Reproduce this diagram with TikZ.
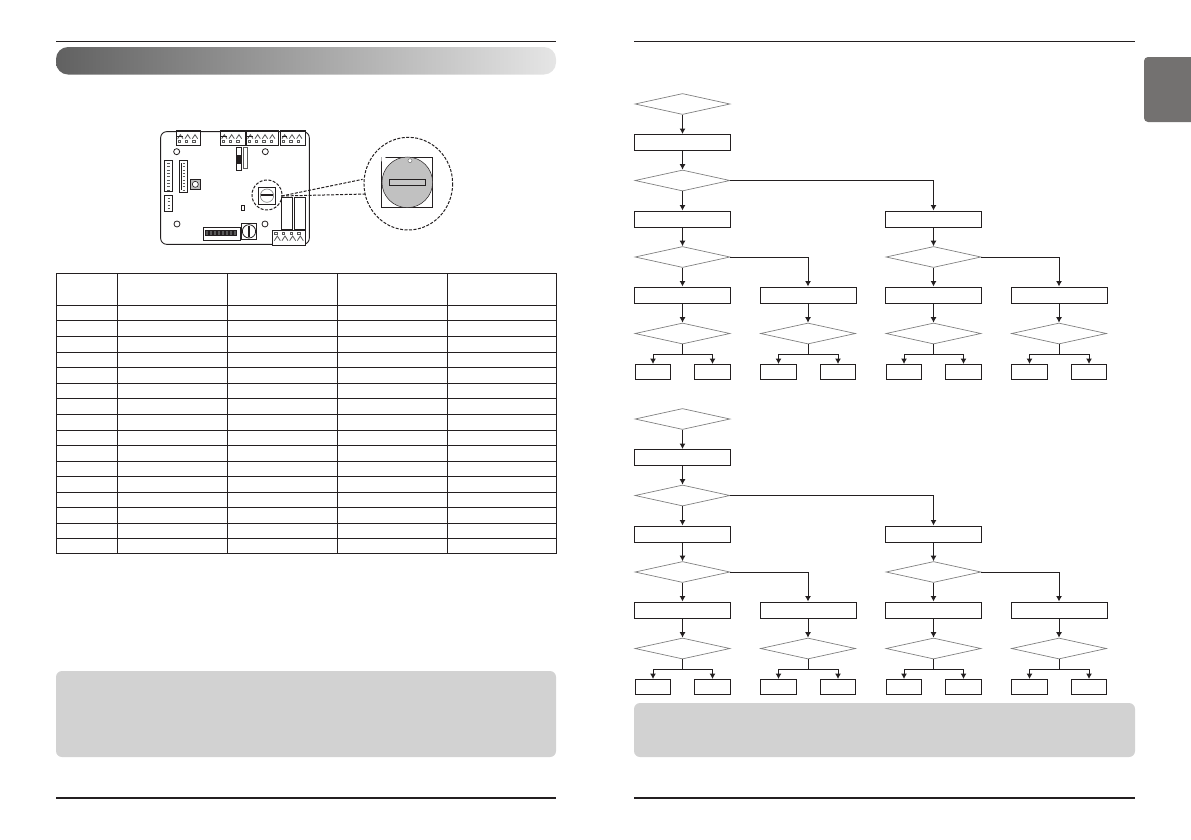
\documentclass[tikz,border=0pt]{standalone}
\usetikzlibrary{shapes.geometric,arrows.meta}
\definecolor{notegray}{HTML}{D2D2D2}
\definecolor{tabgray}{HTML}{737170}
\definecolor{inkblack}{HTML}{231F20}
\tikzset{
	stepbox/.style={draw=inkblack, line width=1pt, rectangle, inner sep=0pt, minimum width=96pt, minimum height=16pt},
	endbox/.style={draw=inkblack, line width=1pt, rectangle, inner sep=0pt, minimum width=35.5pt, minimum height=15pt},
	decide/.style={draw=gray, line width=.7pt, diamond, aspect=4.6, inner sep=0pt, minimum width=95pt, minimum height=21pt},
	link/.style={draw=inkblack, line width=1pt},
	board/.style={draw=inkblack, line width=.6pt},
	cutline/.style={draw=inkblack, line width=1pt, dash pattern=on 3pt off 1.5pt}
}
\begin{document}
\begin{tikzpicture}[>={Latex[length=5.5pt,width=6pt]}, x=1pt, y=-1pt]
	\useasboundingbox (0,0) rectangle (1191,839);

	% page rules
	\foreach \a/\b in {56/556,634/1135} {
			\draw[inkblack, line width=1pt] (\a,41) -- (\b,41);
			\draw[inkblack, line width=2pt] (\a,798) -- (\b,798);
		}

	% heading bar, tab and note boxes
	\shade[left color=black!62, right color=black!10, rounded corners=12pt] (56,47) rectangle (556,74.5);
	\fill[tabgray, rounded corners=4pt] (1144,57) rectangle (1200,122);
	\fill[notegray, rounded corners=6pt] (56,671) rectangle (556,757);
	\fill[notegray, rounded corners=6pt] (634,703) rectangle (1135,757);

	% table
	\foreach \x in {56.5,117,227,337,447,556} {
			\draw[inkblack, line width=1pt] (\x,273) -- (\x,553.5);
		}
	\foreach \y in {273,305,320.5,336,352,367,383,398.5,414,430,445.5,461,476,492,507.5,523,538.5,553.5} {
			\draw[inkblack, line width=1pt] (56.5,\y) -- (556,\y);
		}

	% board, in crop units
	\begin{scope}[shift={(140,110)}, x=.3333pt, y=-.3333pt]
		\draw[board, line width=.9pt, rounded corners=6pt] (62,65) rectangle (508,403);
		\foreach \a/\b/\n in {108/182/2,240/315/2,318/416/3,421/495/2} {
				\draw[board, line width=.8pt, fill=white] (\a,62) rectangle (\b,105);
				\draw[inkblack, line width=1.4pt] (\a,63) -- (\b,63);
				\foreach \k in {0,...,\n} {
						\draw[board, line width=.8pt, gray!70!black] ({\a+5+22*\k},86) -- ++(8,-12) -- ++(8,12) -- ++(-8,-12);
						\draw[board, gray!70!black] ({\a+6+22*\k},90) rectangle ++(7,7);
					}
				\draw[inkblack, line width=1.3pt] ({\a+4},80) -- ++(16,0);
			}
		\draw[board, line width=.8pt, fill=white] (397,362) rectangle (495,407);
		\draw[inkblack, line width=1.4pt] (397,406) -- (495,406);
		\foreach \k in {0,...,3} {
				\draw[board, line width=.8pt, gray!70!black] ({403+23*\k},392) -- ++(9,-14) -- ++(9,14) -- ++(-9,-14);
				\draw[board, gray!70!black] ({404+23*\k},366) rectangle ++(7,6);
			}
		\foreach \x/\y in {110/125,376/125,111/342,375/342} {
				\draw[board, line width=.8pt] (\x,\y) circle (9);
			}
		\foreach \a/\c/\b/\d in {72/152/98/245,118/152/142/247,73/257/98/304} {
				\draw[board, line width=.8pt] (\a,\c) rectangle (\b,\d);
			}
		\draw[inkblack, line width=1pt] (124,160) -- (124,240);
		\foreach \y in {160,170,...,240} {
				\draw[board, gray!70!black, line width=.9pt] (82,\y) -- ++(8,0);
				\draw[board, gray!70!black, line width=.9pt] (128,\y) -- ++(8,0);
			}
		\foreach \y in {265,275,285,295} {
				\draw[board, gray!70!black, line width=.9pt] (83,\y) -- ++(8,0);
			}
		\draw[board, fill=gray!50] (152,209) rectangle (180,238);
		\draw[board, fill=white] (166,223) circle (9);
		\draw[board, line width=.8pt] (303,286) rectangle (314,301);
		\draw[board] (288,113) rectangle (305,180);
		\draw[board, fill=inkblack] (291,135) rectangle (302,160);
		\draw[board, fill=white] (294,140) rectangle (299,155);
		\draw[board, gray!70!black, line width=1.2pt] (311,113) rectangle (323,176);
		% dip switch and rotary
		\draw[board, line width=.8pt] (190,351) rectangle (300,390);
		\foreach \x in {197,209,...,287} {
				\draw[board, fill=gray!70!black] (\x,362) rectangle ++(7,15);
			}
		\draw[board, line width=.8pt] (304,340) rectangle (350,388);
		\draw[board, line width=.8pt] (327,364) circle (20);
		\draw[inkblack, line width=1.6pt] (327,348) -- (327,380);
		% relays
		\draw[board, line width=.9pt] (424,262) rectangle (458,358);
		\draw[board, line width=.9pt] (462,262) rectangle (497,358);
		% switch and its dashed ring
		\draw[board, line width=.9pt] (356,232) rectangle (407,282);
		\draw[board, gray] (381,257) circle (20);
		\draw[inkblack, line width=2pt] (362,256) -- (399,256);
		\draw[cutline] (381,255) circle (45);
		% enlarged view
		\draw[cutline] (425,258) -- (668,208);
		\draw[cutline] (425,258) -- (680,252);
		\draw[cutline, fill=white] (805,221) ellipse (133 and 139);
		\draw[inkblack, line width=1pt, fill=white] (725,142) rectangle (878,292);
		\fill[white] (724,141) -- (738,141) -- (724,155) -- cycle;
		\draw[inkblack, line width=.5pt, fill=notegray!92!black] (802,217) circle (76);
		\draw[inkblack, line width=1.3pt, fill=gray!45] (749,209) rectangle (857,227);
		\draw[board, gray, fill=white] (810,152) circle (6);
	\end{scope}

	% two charts of the same form
	\foreach \o/\t in {0/a,315/b} {
			\begin{scope}[shift={(0,\o)}]
				\node[decide]  (\t first) at (682.5,104) {};
				\node[stepbox] (\t start) at (682.5,142.5) {};
				\node[decide]  (\t fork)  at (682.5,180.5) {};
				\draw[link, ->] (\t first) -- (\t start);
				\draw[link, ->] (\t start) -- (\t fork);
				\foreach \c/\x in {1/682.5,2/933.5} {
						\node[stepbox] (\t step\c) at (\x,219) {};
						\node[decide]  (\t ask\c)  at (\x,257) {};
						\draw[link, ->] (\t step\c) -- (\t ask\c);
					}
				\draw[link, ->] (\t fork) -- (\t step1);
				\draw[link, ->] (\t fork.east) -| (\t step2.north);
				\foreach \c/\x/\p/\s in {1/682.5/1/south,2/808/1/east,3/933.5/2/south,4/1059/2/east} {
						\node[stepbox] (\t sub\c)  at (\x,295) {};
						\node[decide]  (\t last\c) at (\x,333.5) {};
						\node[endbox]  (\t no\c)   at ({\x-29.5},372) {};
						\node[endbox]  (\t yes\c)  at ({\x+30},372) {};
						\draw[link, ->] (\t ask\p.\s) -| (\t sub\c.north);
						\draw[link, ->] (\t sub\c) -- (\t last\c);
						\draw[link, ->] (\t last\c.south) -- ++(0,10) -| (\t no\c.north);
						\draw[link, ->] (\t last\c.south) -- ++(0,10) -| (\t yes\c.north);
					}
			\end{scope}
		}
\end{tikzpicture}
\end{document}
